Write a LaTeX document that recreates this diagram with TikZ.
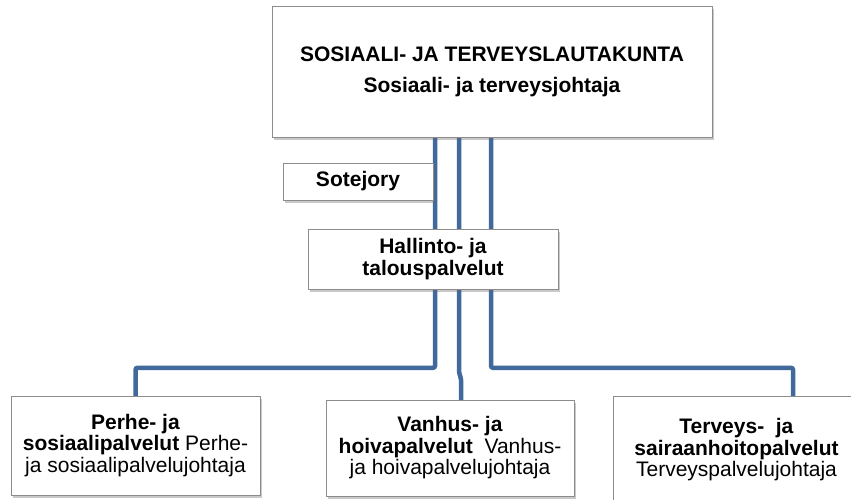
\documentclass[tikz,border=0pt]{standalone}
\usepackage{fontspec}
\setmainfont{Liberation Sans}
\usetikzlibrary{shadows}
\definecolor{connblue}{RGB}{65,105,155}
\tikzset{
  orgbox/.style={draw=black!45, line width=0.8pt, fill=white, align=center, inner sep=0pt,
    font=\fontsize{21}{21.5}\selectfont,
    drop shadow={shadow xshift=1.5pt, shadow yshift=-2.5pt, opacity=0.35, fill=black!60}},
  conn/.style={draw=connblue, line width=4.5pt, rounded corners=2pt}
}
\begin{document}
\begin{tikzpicture}[x=1pt, y=-1pt]
\clip (0,0) rectangle (851,499);
\fill[white] (0,0) rectangle (851,499);
% boxes (positions only, drawn later on top of connectors)
\path
  (492,71.5) coordinate (ctop)
  (358,181.5) coordinate (csote)
  (433,259) coordinate (chall)
  (135.5,445.5) coordinate (cb1)
  (450,448) coordinate (cb2)
  (736.5,450) coordinate (cb3);
% invisible placeholders to name anchors
\node[minimum width=440pt, minimum height=131pt, inner sep=0pt] (top) at (ctop) {};
\node[minimum width=249pt, minimum height=99pt, inner sep=0pt] (b1) at (cb1) {};
\node[minimum width=248pt, minimum height=96pt, inner sep=0pt] (b2) at (cb2) {};
\node[minimum width=247pt, minimum height=108pt, inner sep=0pt] (b3) at (cb3) {};
% connectors
\draw[conn] ([xshift=-57pt]top.south) |- ([yshift=28pt]b1.north) -- (b1.north);
\draw[conn] ([xshift=-33pt]top.south) -- ([xshift=-33pt,yshift=-236pt]top.south)
  -- ([xshift=11pt,yshift=22pt]b2.north) -- ([xshift=11pt]b2.north);
\draw[conn] ([xshift=-1pt]top.south) |- ([yshift=28pt,xshift=56.5pt]b3.north) -- ([xshift=56.5pt]b3.north);
% visible boxes
\node[orgbox, minimum width=440pt, minimum height=131pt, font=\fontsize{21}{25}\selectfont\bfseries] (topbox) at (ctop)
  {SOSIAALI- JA TERVEYSLAUTAKUNTA\\[6pt]Sosiaali- ja terveysjohtaja};
\node[orgbox, minimum width=150pt, minimum height=37pt, font=\fontsize{21}{21.5}\selectfont\bfseries] (sote) at (csote) {Sotejory};
\node[orgbox, minimum width=250pt, minimum height=60pt, font=\fontsize{21}{21.5}\selectfont\bfseries] (hall) at (chall) {Hallinto- ja\\talouspalvelut};
\node[orgbox, minimum width=249pt, minimum height=99pt] (box1) at (cb1)
  {\textbf{Perhe- ja}\\\textbf{sosiaalipalvelut} Perhe-\\ja sosiaalipalvelujohtaja};
\node[orgbox, minimum width=248pt, minimum height=96pt] (box2) at (cb2)
  {\textbf{Vanhus- ja}\\\textbf{hoivapalvelut}\ \ Vanhus-\\ja hoivapalvelujohtaja};
\node[orgbox, minimum width=247pt, minimum height=108pt] (box3) at (cb3)
  {\textbf{Terveys-\ \ ja}\\\textbf{sairaanhoitopalvelut}\\Terveyspalvelujohtaja};
\end{tikzpicture}
\end{document}
